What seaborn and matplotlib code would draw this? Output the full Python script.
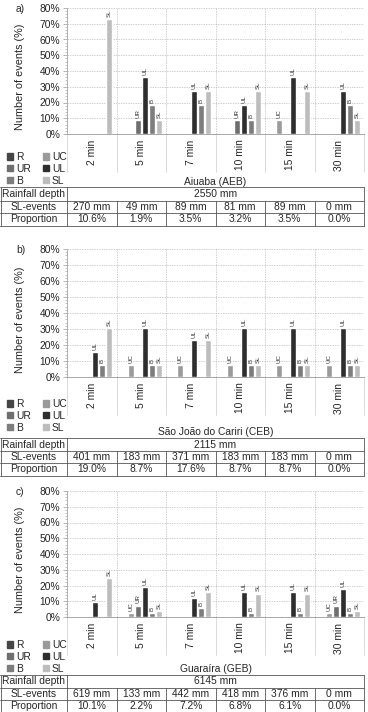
import numpy as np
import pandas as pd
import matplotlib
matplotlib.use('Agg')
import matplotlib.pyplot as plt
from matplotlib.patches import Patch
from matplotlib.ticker import FuncFormatter
import seaborn as sns

sns.set_style('white')
plt.rcParams['font.family'] = ['Liberation Sans', 'DejaVu Sans']

durations = ['2 min', '5 min', '7 min', '10 min', '15 min', '30 min']
classes = ['R', 'UC', 'UR', 'UL', 'B', 'SL']

# rows follow `classes`, columns follow `durations` (% of events)
aeb_values = [
    [0, 0, 0, 0, 0, 0],
    [0, 0, 0, 0, 9.1, 0],
    [0, 9.1, 0, 9.1, 0, 0],
    [0, 36.4, 27.3, 18.2, 36.4, 27.3],
    [0, 18.2, 18.2, 9.1, 0, 18.2],
    [72.7, 9.1, 27.3, 27.3, 27.3, 9.1],
]
ceb_values = [
    [0, 0, 0, 0, 0, 0],
    [0, 7.7, 7.7, 7.7, 7.7, 7.7],
    [0, 0, 0, 0, 0, 0],
    [15.4, 30.8, 23.1, 30.8, 30.8, 30.8],
    [7.7, 7.7, 0, 7.7, 7.7, 7.7],
    [30.8, 7.7, 23.1, 7.7, 7.7, 7.7],
]
geb_values = [
    [0, 0, 0, 0, 0, 0],
    [0, 2.8, 0, 0, 0, 2.8],
    [0, 7.3, 0, 0, 0, 7.3],
    [9.4, 19.3, 12.3, 16.1, 16.1, 18.0],
    [0, 2.8, 5.4, 2.8, 2.8, 2.8],
    [25.0, 3.5, 16.1, 14.9, 14.9, 3.5],
]

stations = ['Aiuaba (AEB)', 'São João do Cariri (CEB)', 'Guaraíra (GEB)']
panel_tags = ['a)', 'b)', 'c)']
rainfall_depth = ['2550 mm', '2115 mm', '6145 mm']
aeb_sl_events = ['270 mm', '49 mm', '89 mm', '81 mm', '89 mm', '0 mm']
ceb_sl_events = ['401 mm', '183 mm', '371 mm', '183 mm', '183 mm', '0 mm']
geb_sl_events = ['619 mm', '133 mm', '442 mm', '418 mm', '376 mm', '0 mm']
aeb_prop = ['10.6%', '1.9%', '3.5%', '3.2%', '3.5%', '0.0%']
ceb_prop = ['19.0%', '8.7%', '17.6%', '8.7%', '8.7%', '0.0%']
geb_prop = ['10.1%', '2.2%', '7.2%', '6.8%', '6.1%', '0.0%']

palette = {'R': '#454545', 'UC': '#9a9a9a', 'UR': '#6e6e6e',
           'UL': '#2e2e2e', 'B': '#7d7d7d', 'SL': '#bdbdbd'}

W, H = 368, 712
fig = plt.figure(figsize=(W / 100, H / 100), dpi=100)
ov = fig.add_axes([0, 0, 1, 1])
ov.set_xlim(0, W)
ov.set_ylim(H, 0)
ov.axis('off')

X0, X1 = 67, 364
# pixel layout per panel: axes top/bottom, legend top, station y, table lines
layout = [
    dict(top=8, bot=134, leg=146, st=182, lines=[187, 201, 213, 226]),
    dict(top=249, bot=377, leg=393, st=432, lines=[438, 451, 463, 476]),
    dict(top=491, bot=617, leg=634, st=669, lines=[675, 688, 700, 712]),
]
all_values = [aeb_values, ceb_values, geb_values]
all_sl = [aeb_sl_events, ceb_sl_events, geb_sl_events]
all_prop = [aeb_prop, ceb_prop, geb_prop]

fs = 7.4
bounds = np.linspace(X0, X1, 7)

for k in range(3):
    L = layout[k]
    ax = fig.add_axes([X0 / W, 1 - L['bot'] / H, (X1 - X0) / W, (L['bot'] - L['top']) / H])
    rows = []
    for ci, c in enumerate(classes):
        for di, d in enumerate(durations):
            rows.append({'duration': d, 'cls': c, 'value': all_values[k][ci][di]})
    df = pd.DataFrame(rows)
    sns.barplot(data=df, x='duration', y='value', hue='cls', order=durations,
                hue_order=classes, palette=palette, width=0.85, gap=0.12,
                saturation=1, legend=False, ax=ax, zorder=3)
    for cont, c in zip(ax.containers, classes):
        labels = [c if b.get_height() > 0 else '' for b in cont]
        ax.bar_label(cont, labels=labels, rotation=90, fontsize=4.4,
                     padding=1.5, color='#333333')
    ax.set_xlim(-0.5, 5.5)
    ax.set_ylim(0, 80)
    ax.set_yticks(np.arange(0, 81, 10))
    ax.set_yticks(np.arange(0, 81, 2), minor=True)
    ax.yaxis.set_major_formatter(FuncFormatter(lambda v, p: f'{v:.0f}%'))
    ax.tick_params(axis='y', which='major', labelsize=fs, length=3, width=0.6,
                   color='#aaaaaa', left=True, pad=2, colors='#222222')
    ax.tick_params(axis='y', which='minor', length=1.5, width=0.5,
                   color='#aaaaaa', left=True)
    ax.set_xticks(range(6))
    ax.set_xticklabels(durations, rotation=90, fontsize=fs, va='top')
    ax.tick_params(axis='x', length=0, pad=4)
    ax.set_xlabel('')
    ax.set_ylabel('Number of events (%)', fontsize=7.8)
    ax.yaxis.set_label_coords(-0.14, 0.45)
    ax.grid(axis='y', color='#bbbbbb', linestyle=(0, (2, 1.5)), linewidth=0.5, zorder=0)
    for xb in np.arange(-0.5, 5.6, 1.0):
        ax.axvline(xb, color='#bbbbbb', linestyle=(0, (2, 1.5)), linewidth=0.5, zorder=0)
        ax.plot([xb, xb], [0, -0.3], transform=ax.get_xaxis_transform(),
                color='#cccccc', linewidth=0.5, clip_on=False)
    for s in ['top', 'right']:
        ax.spines[s].set_visible(False)
    ax.spines['left'].set_color('#aaaaaa')
    ax.spines['left'].set_linewidth(0.6)
    ax.spines['bottom'].set_color('#999999')
    ax.spines['bottom'].set_linewidth(0.6)

    ov.text(16, L['top'] + 1, panel_tags[k], fontsize=fs, ha='left', va='center')

    handles = [Patch(color=palette[c], label=c) for c in ['R', 'UR', 'B', 'UC', 'UL', 'SL']]
    ax.legend(handles=handles, ncol=2, loc='upper left', bbox_to_anchor=(1, L['leg']),
              bbox_transform=ov.transData, frameon=False, fontsize=fs,
              handlelength=0.55, handleheight=0.55, handletextpad=0.3,
              columnspacing=1.2, labelspacing=0.18, borderpad=0.1)

    ov.text((X0 + X1) / 2, L['st'], stations[k], fontsize=fs, ha='center', va='center')

    ln = L['lines']
    for y in ln:
        ov.plot([0, X1], [y, y], color='#555555', linewidth=0.6)
    ov.plot([X0, X0], [ln[0], ln[3]], color='#555555', linewidth=0.6)
    ov.plot([X1, X1], [ln[0], ln[3]], color='#555555', linewidth=0.6)
    ov.plot([0.5, 0.5], [ln[0], ln[3]], color='#555555', linewidth=0.6)
    for xb in bounds[1:-1]:
        ov.plot([xb, xb], [ln[1], ln[3]], color='#555555', linewidth=0.6)
    mids = [(ln[i] + ln[i + 1]) / 2 for i in range(3)]
    ov.text(X0 / 2, mids[0], 'Rainfall depth', fontsize=fs, ha='center', va='center')
    ov.text(X0 / 2, mids[1], 'SL-events', fontsize=fs, ha='center', va='center')
    ov.text(X0 / 2, mids[2], 'Proportion', fontsize=fs, ha='center', va='center')
    ov.text((X0 + X1) / 2, mids[0], rainfall_depth[k], fontsize=fs, ha='center', va='center')
    for j in range(6):
        cx = (bounds[j] + bounds[j + 1]) / 2
        ov.text(cx, mids[1], all_sl[k][j], fontsize=fs, ha='center', va='center')
        ov.text(cx, mids[2], all_prop[k][j], fontsize=fs, ha='center', va='center')

fig.savefig('out.png', dpi=100)
